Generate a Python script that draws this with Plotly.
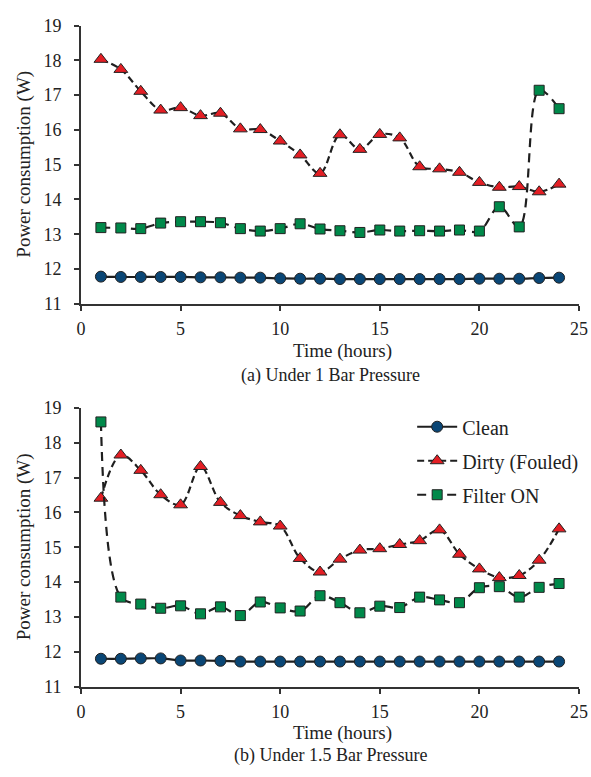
import plotly.graph_objects as go

hours = list(range(1, 25))

# (a) 1 bar pressure
clean_1bar = [11.78, 11.77, 11.77, 11.77, 11.77, 11.76, 11.76, 11.75, 11.75, 11.73, 11.72, 11.72,
              11.71, 11.71, 11.71, 11.71, 11.71, 11.71, 11.71, 11.72, 11.72, 11.72, 11.74, 11.75]
dirty_1bar = [18.03, 17.74, 17.11, 16.57, 16.64, 16.41, 16.48, 16.03, 16.01, 15.68, 15.28, 14.75,
              15.86, 15.44, 15.87, 15.77, 14.94, 14.88, 14.78, 14.49, 14.35, 14.37, 14.22, 14.44]
filter_1bar = [13.19, 13.18, 13.16, 13.32, 13.36, 13.36, 13.33, 13.16, 13.09, 13.16, 13.30, 13.15,
               13.10, 13.05, 13.12, 13.09, 13.10, 13.09, 13.12, 13.09, 13.79, 13.21, 17.14, 16.61]

# (b) 1.5 bar pressure
clean_15bar = [11.80, 11.80, 11.81, 11.81, 11.75, 11.75, 11.74, 11.72, 11.72, 11.72, 11.72, 11.72,
               11.72, 11.72, 11.72, 11.72, 11.72, 11.72, 11.72, 11.72, 11.72, 11.72, 11.72, 11.72]
dirty_15bar = [16.41, 17.65, 17.21, 16.51, 16.22, 17.32, 16.29, 15.91, 15.73, 15.61, 14.68, 14.29,
               14.66, 14.92, 14.96, 15.08, 15.19, 15.50, 14.80, 14.38, 14.13, 14.19, 14.63, 15.53]
filter_15bar = [18.60, 13.57, 13.37, 13.25, 13.32, 13.09, 13.29, 13.04, 13.43, 13.26, 13.17, 13.61,
                13.41, 13.12, 13.31, 13.27, 13.57, 13.49, 13.41, 13.84, 13.87, 13.57, 13.85, 13.96]

series_names = ["Clean", "Dirty (Fouled)", "Filter ON"]
x_ticks = [0, 5, 10, 15, 20, 25]
y_ticks = [11, 12, 13, 14, 15, 16, 17, 18, 19]
captions = ["(a) Under 1 Bar Pressure", "(b) Under 1.5 Bar Pressure"]
x_title = "Time (hours)"
y_title = "Power consumption (W)"

FONT = "Liberation Serif"
INK = "#222222"
LINE = "#1f1f1f"
H = 777.0
styles = [
    dict(symbol="circle", color="#0a4675", size=11, dash="solid"),
    dict(symbol="triangle-up", color="#e31e24", size=12, dash="7px,4px"),
    dict(symbol="square", color="#00894a", size=10, dash="9px,6px"),
]

fig = go.Figure()

panels = [
    ("x", "y", [clean_1bar, dirty_1bar, filter_1bar], False),
    ("x2", "y2", [clean_15bar, dirty_15bar, filter_15bar], True),
]
for xa, ya, data, show in panels:
    for name, vals, st in zip(series_names, data, styles):
        fig.add_trace(go.Scatter(
            x=hours, y=vals, name=name, xaxis=xa, yaxis=ya, legendgroup=name,
            mode="lines+markers", showlegend=show,
            line=dict(color=LINE, width=2.2, dash=st["dash"], shape="spline", smoothing=1.0),
            marker=dict(symbol=st["symbol"], color=st["color"], size=st["size"],
                        line=dict(color="#222222", width=1)),
        ))

axis_common = dict(showline=True, linecolor="#333333", linewidth=2, ticks="outside",
                   ticklen=5, tickwidth=1.5, tickcolor="#333333", showgrid=False, zeroline=False,
                   tickfont=dict(family=FONT, size=18, color=INK))

# panel extents in pixels (top, bottom)
top_px = (16, 301.5)
bot_px = (408.5, 694.5)
top_dom = [1 - top_px[1] / H, 1 - top_px[0] / H]
bot_dom = [1 - bot_px[1] / H, 1 - bot_px[0] / H]

fig.update_layout(
    width=591, height=777,
    margin=dict(l=81, r=12, t=0, b=0),
    paper_bgcolor="white", plot_bgcolor="white",
    font=dict(family=FONT, size=18, color=INK),
    xaxis=dict(domain=[0, 1], range=[0, 25], tickvals=x_ticks, anchor="y",
               ticklabelstandoff=3, **axis_common),
    yaxis=dict(domain=top_dom, range=[11, 19], tickvals=y_ticks, anchor="x",
               ticklabelstandoff=9, **axis_common),
    xaxis2=dict(domain=[0, 1], range=[0, 25], tickvals=x_ticks, anchor="y2",
                ticklabelstandoff=3, **axis_common),
    yaxis2=dict(domain=bot_dom, range=[11, 19], tickvals=y_ticks, anchor="x2",
                ticklabelstandoff=9, **axis_common),
    legend=dict(x=0.665, y=bot_dom[1] + 0.001, xanchor="left", yanchor="top",
                bgcolor="rgba(0,0,0,0)", font=dict(family=FONT, size=20, color=INK),
                tracegroupgap=5, itemwidth=40),
    showlegend=True,
)

for (ptop, pbot), xref in [(top_px, "x"), (bot_px, "x2")]:
    # x-axis title, just below and right of the tick-label row
    fig.add_annotation(text=x_title, x=13.15, xref=xref, y=1 - (pbot + 48) / H, yref="paper",
                       showarrow=False, xanchor="center", yanchor="middle",
                       font=dict(family=FONT, size=19, color=INK))
    # y-axis title
    fig.add_annotation(text=y_title, x=-57 / 498, xref="paper", y=1 - (ptop + pbot) / 2 / H,
                       yref="paper", textangle=-90, showarrow=False,
                       xanchor="center", yanchor="middle",
                       font=dict(family=FONT, size=19, color=INK))

for cap, ypix in zip(captions, [375, 765]):
    fig.add_annotation(text=cap, x=0.5, xref="paper", y=1 - ypix / H, yref="paper",
                       showarrow=False, xanchor="center", yanchor="middle",
                       font=dict(family=FONT, size=18, color=INK))

fig.write_html("out.html")
